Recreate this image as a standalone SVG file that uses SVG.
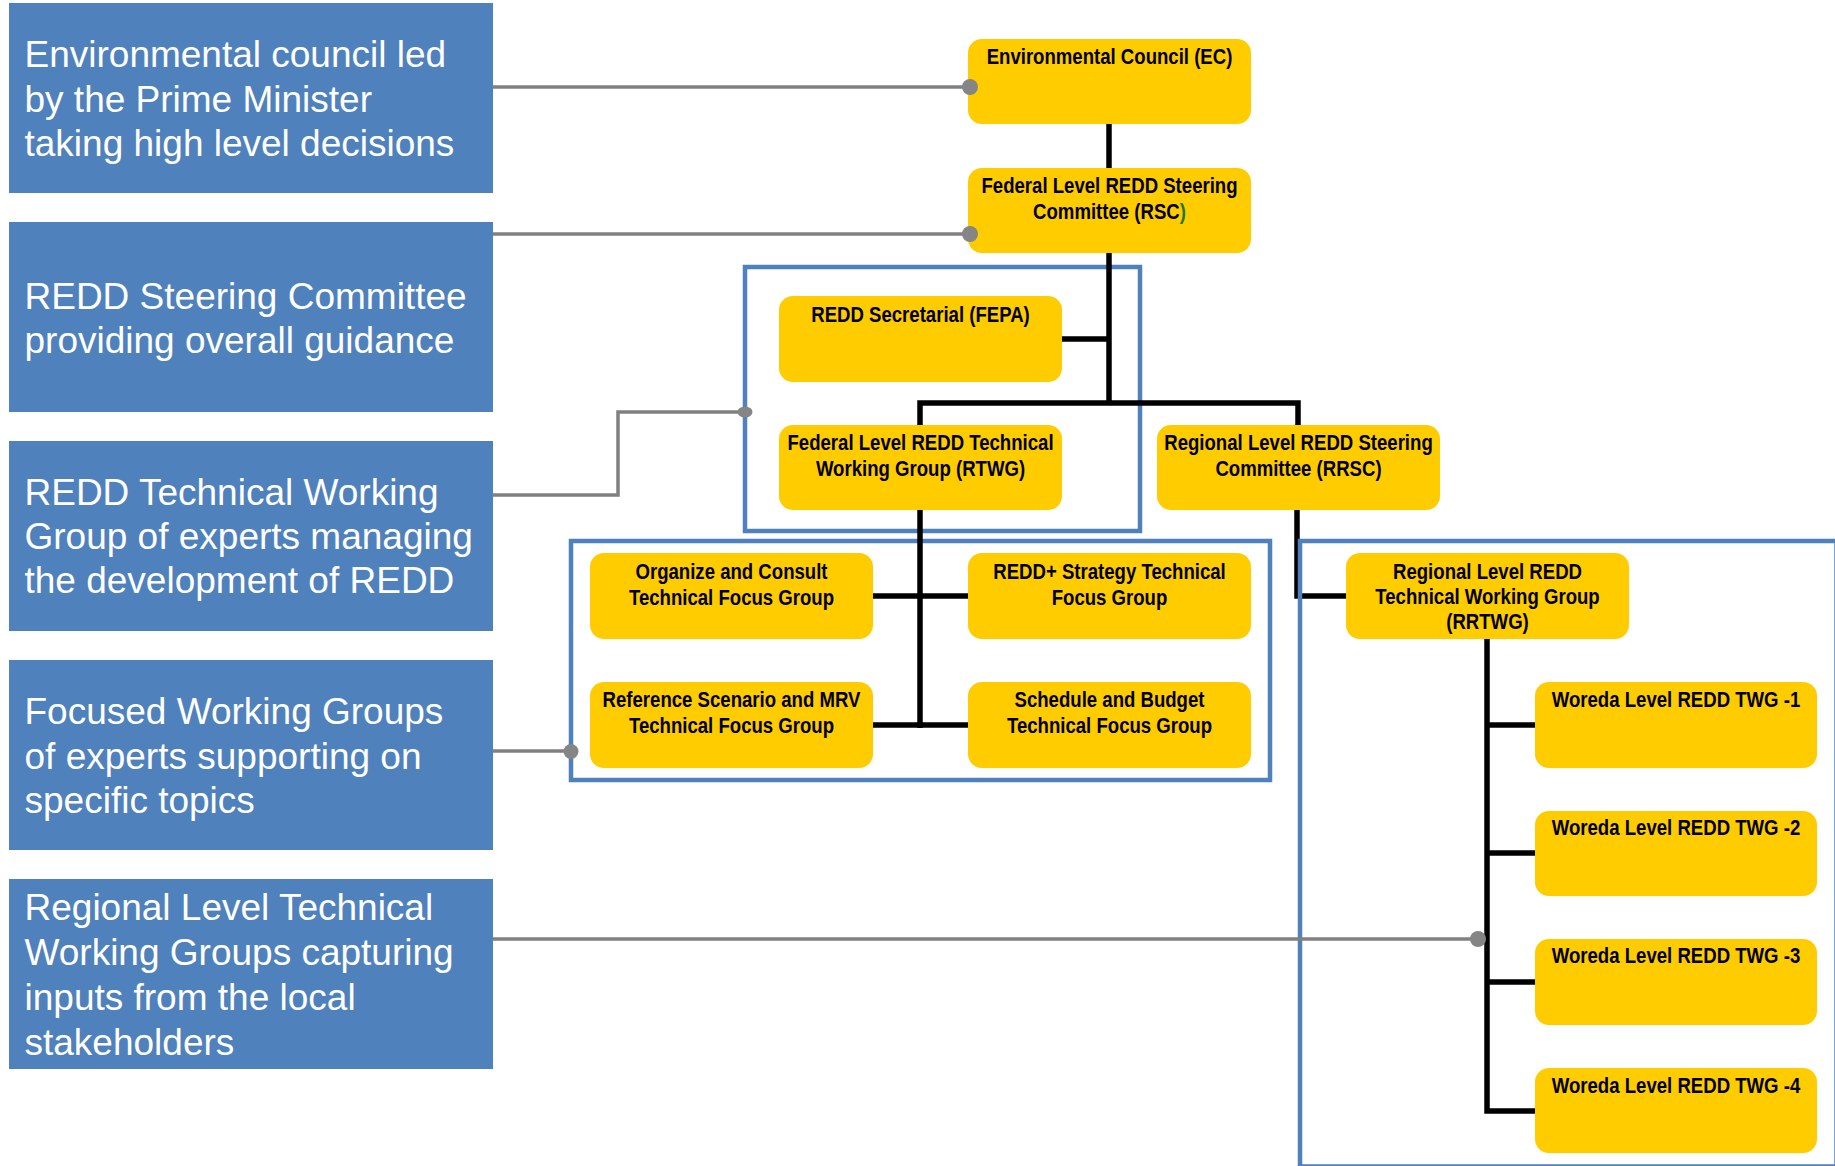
<svg xmlns="http://www.w3.org/2000/svg" width="1835" height="1166" viewBox="0 0 1835 1166">
  <style>
    .note { fill: #4f81bd; }
    .note-text { font-family: "Liberation Sans", Arial, sans-serif; font-size: 37px; fill: #ffffff; }
    .unit { fill: #ffcc00; }
    .unit-text { font-family: "Liberation Sans", Arial, sans-serif; font-size: 22px; font-weight: bold; fill: #000000; text-anchor: middle; }
    .frame { fill: none; stroke: #4f81bd; stroke-width: 4.5; }
    .link { fill: none; stroke: #000000; stroke-width: 5.5; stroke-linejoin: miter; }
    .lead { fill: none; stroke: #808080; stroke-width: 3.5; }
    .lead-dot { fill: #858585; }
  </style>

  <rect width="1835" height="1166" fill="#ffffff"/>

  <!-- explanatory notes on the left -->
  <g id="note-ec">
    <rect class="note" x="9" y="3" width="484" height="190"/>
    <text class="note-text" x="24.5" y="67">Environmental council led</text>
    <text class="note-text" x="24.5" y="111.5">by the Prime Minister</text>
    <text class="note-text" x="24.5" y="156">taking high level decisions</text>
  </g>
  <g id="note-rsc">
    <rect class="note" x="9" y="222" width="484" height="190"/>
    <text class="note-text" x="24.5" y="309">REDD Steering Committee</text>
    <text class="note-text" x="24.5" y="353">providing overall guidance</text>
  </g>
  <g id="note-rtwg">
    <rect class="note" x="9" y="441" width="484" height="190"/>
    <text class="note-text" x="24.5" y="505">REDD Technical Working</text>
    <text class="note-text" x="24.5" y="549">Group of experts managing</text>
    <text class="note-text" x="24.5" y="593">the development of REDD</text>
  </g>
  <g id="note-focus">
    <rect class="note" x="9" y="660" width="484" height="190"/>
    <text class="note-text" x="24.5" y="724">Focused Working Groups</text>
    <text class="note-text" x="24.5" y="769">of experts supporting on</text>
    <text class="note-text" x="24.5" y="813">specific topics</text>
  </g>
  <g id="note-regional">
    <rect class="note" x="9" y="879" width="484" height="190"/>
    <text class="note-text" x="24.5" y="920">Regional Level Technical</text>
    <text class="note-text" x="24.5" y="965">Working Groups capturing</text>
    <text class="note-text" x="24.5" y="1010">inputs from the local</text>
    <text class="note-text" x="24.5" y="1055">stakeholders</text>
  </g>

  <!-- grouping frames -->
  <g id="frames-federal">
    <rect class="frame" x="745" y="267" width="395" height="264"/>
    <rect class="frame" x="571" y="541" width="699" height="239"/>
  </g>

  <!-- organisational connectors -->
  <g id="connectors">
    <path class="link" d="M1109 124 V403"/>
    <path class="link" d="M1062 339 H1109"/>
    <path class="link" d="M920 425 V403 H1298 V425"/>
    <path class="link" d="M920 510 V728"/>
    <path class="link" d="M873 596 H968"/>
    <path class="link" d="M873 725 H968"/>
    <path class="link" d="M1297 510 V596 H1346"/>
    <path class="link" d="M1487 639 V1111 H1535"/>
    <path class="link" d="M1487 725 H1535"/>
    <path class="link" d="M1487 853 H1535"/>
    <path class="link" d="M1487 982 H1535"/>
  </g>

  <!-- regional frame runs off the right and bottom edges -->
  <g id="frame-regional">
    <path class="frame" d="M1300 541 H1836.5 V1166.5 H1300 Z"/>
  </g>

  <!-- units -->
  <g id="ec">
    <rect class="unit" x="968" y="39" width="283" height="85" rx="14"/>
    <text class="unit-text" transform="translate(1109.5 64) scale(0.845 1)">Environmental Council (EC)</text>
  </g>
  <g id="rsc">
    <rect class="unit" x="968" y="168" width="283" height="85" rx="14"/>
    <text class="unit-text" transform="translate(1109.5 193) scale(0.845 1)"><tspan x="0" y="0">Federal Level REDD Steering</tspan><tspan x="0" y="26">Committee (RSC<tspan fill="#1d7a1d">)</tspan></tspan></text>
  </g>
  <g id="secretariat">
    <rect class="unit" x="779" y="296" width="283" height="86" rx="14"/>
    <text class="unit-text" transform="translate(920.5 322) scale(0.845 1)">REDD Secretarial (FEPA)</text>
  </g>
  <g id="rtwg">
    <rect class="unit" x="779" y="425" width="283" height="85" rx="14"/>
    <text class="unit-text" transform="translate(920.5 450) scale(0.845 1)"><tspan x="0" y="0">Federal Level REDD Technical</tspan><tspan x="0" y="26">Working Group (RTWG)</tspan></text>
  </g>
  <g id="rrsc">
    <rect class="unit" x="1157" y="425" width="283" height="85" rx="14"/>
    <text class="unit-text" transform="translate(1298.5 450) scale(0.845 1)"><tspan x="0" y="0">Regional Level REDD Steering</tspan><tspan x="0" y="26">Committee (RRSC)</tspan></text>
  </g>
  <g id="tfg-organize">
    <rect class="unit" x="590" y="553" width="283" height="86" rx="14"/>
    <text class="unit-text" transform="translate(731.5 579) scale(0.845 1)"><tspan x="0" y="0">Organize and Consult</tspan><tspan x="0" y="26">Technical Focus Group</tspan></text>
  </g>
  <g id="tfg-strategy">
    <rect class="unit" x="968" y="553" width="283" height="86" rx="14"/>
    <text class="unit-text" transform="translate(1109.5 579) scale(0.845 1)"><tspan x="0" y="0">REDD+ Strategy Technical</tspan><tspan x="0" y="26">Focus Group</tspan></text>
  </g>
  <g id="tfg-reference">
    <rect class="unit" x="590" y="682" width="283" height="86" rx="14"/>
    <text class="unit-text" transform="translate(731.5 707) scale(0.845 1)"><tspan x="0" y="0">Reference Scenario and MRV</tspan><tspan x="0" y="26">Technical Focus Group</tspan></text>
  </g>
  <g id="tfg-schedule">
    <rect class="unit" x="968" y="682" width="283" height="86" rx="14"/>
    <text class="unit-text" transform="translate(1109.5 707) scale(0.845 1)"><tspan x="0" y="0">Schedule and Budget</tspan><tspan x="0" y="26">Technical Focus Group</tspan></text>
  </g>
  <g id="rrtwg">
    <rect class="unit" x="1346" y="553" width="283" height="86" rx="14"/>
    <text class="unit-text" transform="translate(1487.5 579) scale(0.845 1)"><tspan x="0" y="0">Regional Level REDD</tspan><tspan x="0" y="25">Technical Working Group</tspan><tspan x="0" y="50">(RRTWG)</tspan></text>
  </g>
  <g id="woreda-1">
    <rect class="unit" x="1535" y="682" width="282" height="86" rx="14"/>
    <text class="unit-text" transform="translate(1676 707) scale(0.845 1)">Woreda Level REDD TWG -1</text>
  </g>
  <g id="woreda-2">
    <rect class="unit" x="1535" y="811" width="282" height="85" rx="14"/>
    <text class="unit-text" transform="translate(1676 835) scale(0.845 1)">Woreda Level REDD TWG -2</text>
  </g>
  <g id="woreda-3">
    <rect class="unit" x="1535" y="939" width="282" height="86" rx="14"/>
    <text class="unit-text" transform="translate(1676 963) scale(0.845 1)">Woreda Level REDD TWG -3</text>
  </g>
  <g id="woreda-4">
    <rect class="unit" x="1535" y="1068" width="282" height="85" rx="14"/>
    <text class="unit-text" transform="translate(1676 1093) scale(0.845 1)">Woreda Level REDD TWG -4</text>
  </g>

  <!-- leader lines from the notes to the levels they describe -->
  <g id="leaders">
    <path class="lead" d="M493 87 H970"/>
    <path class="lead" d="M493 234 H970"/>
    <path class="lead" d="M493 495 H618 V412 H745"/>
    <path class="lead" d="M493 751 H571"/>
    <path class="lead" d="M493 939 H1478"/>
    <circle class="lead-dot" cx="970" cy="87" r="8"/>
    <circle class="lead-dot" cx="970" cy="234" r="8"/>
    <ellipse class="lead-dot" cx="745" cy="412" rx="7.5" ry="5.5"/>
    <circle class="lead-dot" cx="571" cy="751.5" r="7.5"/>
    <circle class="lead-dot" cx="1478" cy="939" r="8"/>
  </g>
</svg>
